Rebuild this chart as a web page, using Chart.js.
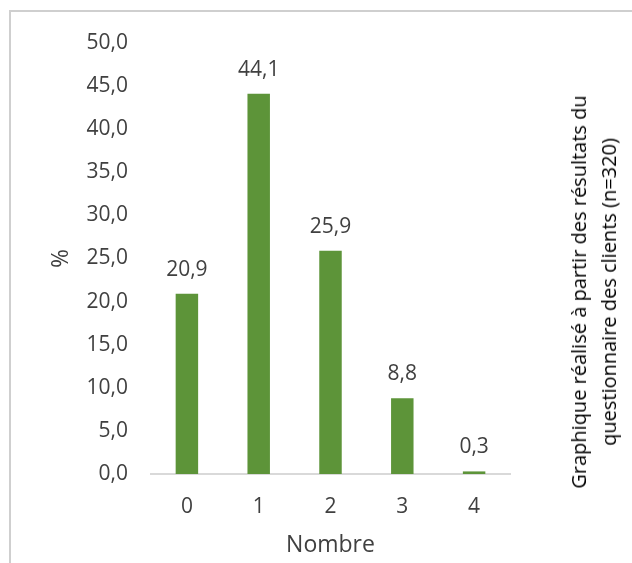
<!DOCTYPE html>
<html>
<head>
<meta charset="utf-8">
<script src="https://cdn.jsdelivr.net/npm/chart.js@4"></script>
<style>
    body { margin: 0; background: #fff; }
    #wrap { position: relative; width: 632px; height: 563px; overflow: hidden; }
    #frame { position: absolute; left: 9px; top: 10px; width: 700px; height: 700px; border: 2px solid #cfcfcf; box-sizing: border-box; }
    #chart { position: absolute; left: 0; top: 0; }
    #note {
        position: absolute; left: 594px; top: 292px;
        transform: translate(-50%, -50%) rotate(-90deg);
        white-space: nowrap; text-align: center;
        font-family: "Open Sans"; font-size: 20px; line-height: 30px; color: #000;
    }
</style>
</head>
<body>
<div id="wrap">
    <div id="frame"></div>
    <canvas id="chart" width="632" height="563"></canvas>
    <div id="note">Graphique réalisé à partir des résultats du<br>questionnaire des clients (n=320)</div>
</div>
<script>
const categories = ['0', '1', '2', '3', '4'];
const percentages = [20.9, 44.1, 25.9, 8.8, 0.3];
const yMin = 0;
const yMax = 50;
const yStep = 5;

const textColor = '#404040';
const barColor = '#5d9439';
const font = { family: 'Open Sans', size: 21 };
const titleFont = { family: 'Open Sans', size: 23 };

function fmt(v) {
    return v.toFixed(1).replace('.', ',');
}

// value labels above each bar
const barLabels = {
    id: 'barLabels',
    afterDatasetsDraw(chart) {
        const ctx = chart.ctx;
        const meta = chart.getDatasetMeta(0);
        ctx.save();
        ctx.font = '21px "Open Sans"';
        ctx.fillStyle = textColor;
        ctx.textAlign = 'center';
        ctx.textBaseline = 'middle';
        meta.data.forEach((bar, i) => {
            ctx.fillText(fmt(percentages[i]), bar.x, bar.y - 24);
        });
        ctx.restore();
    }
};

function loadChart() {
    const ctx = document.getElementById('chart').getContext('2d');
    new Chart(ctx, {
        type: 'bar',
        data: {
            labels: categories,
            datasets: [{
                data: percentages,
                backgroundColor: barColor,
                barPercentage: 0.313,
                categoryPercentage: 1
            }]
        },
        options: {
            responsive: false,
            animation: false,
            devicePixelRatio: 1,
            layout: { padding: { left: 0, right: 122, top: 43, bottom: 0 } },
            plugins: {
                legend: { display: false },
                tooltip: { enabled: false }
            },
            scales: {
                x: {
                    grid: { display: false, drawTicks: false },
                    border: { display: true, color: '#d9d9d9', width: 2 },
                    ticks: { color: textColor, font: font, padding: 20 },
                    title: { display: true, text: 'Nombre', color: textColor, font: titleFont, padding: { top: 0, bottom: 4 } },
                    afterFit: scale => { scale.height = 89; }
                },
                y: {
                    min: yMin,
                    max: yMax,
                    grid: { display: false, drawTicks: false },
                    border: { display: false },
                    ticks: { stepSize: yStep, color: textColor, font: font, padding: 23, callback: v => fmt(v) },
                    title: { display: true, text: '%', color: textColor, font: titleFont, padding: { top: 48, bottom: 0 } },
                    afterFit: scale => { scale.width = 151; }
                }
            }
        },
        plugins: [barLabels]
    });
}

window.onload = loadChart;
</script>
</body>
</html>
